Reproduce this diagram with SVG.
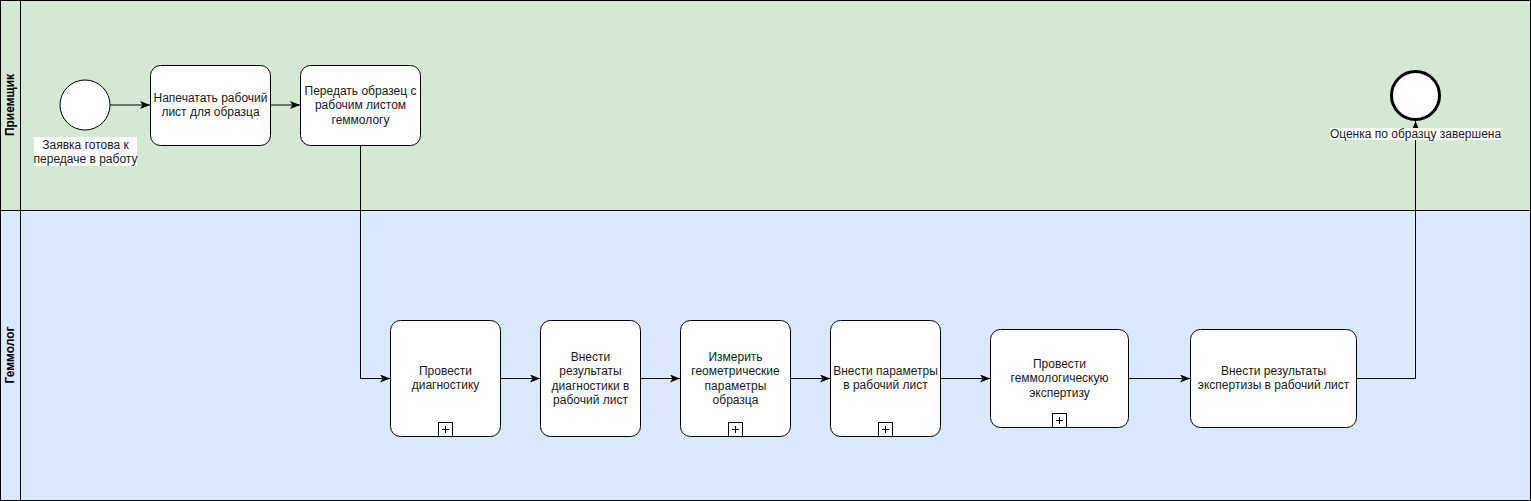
<svg xmlns="http://www.w3.org/2000/svg" width="1531" height="501" viewBox="0 0 1531 501">
<style>
.lane{stroke:#000;stroke-width:1}
.task{fill:#fff;stroke:#000;stroke-width:1}
.t{font-family:"Liberation Sans",Arial,sans-serif;font-size:12px;fill:#1a1a1a;text-anchor:middle}
.lt{font-family:"Liberation Sans",Arial,sans-serif;font-size:12px;font-weight:bold;fill:#000;text-anchor:middle}
.edge{fill:none;stroke:#000;stroke-width:1}
.plus{fill:#fff;stroke:#000;stroke-width:1}
</style>
<defs>
<marker id="arr" viewBox="0 0 10 8" refX="10" refY="4" markerWidth="10" markerHeight="8" markerUnits="userSpaceOnUse" orient="auto">
<path d="M0,0 L10,4 L0,8 L2.5,4 Z" fill="#000"/>
</marker>
</defs>
<g id="pool">
<rect x="0.5" y="0.5" width="1530" height="210" fill="#d5e8d4" class="lane"/>
<rect x="0.5" y="210.5" width="1530" height="290" fill="#dae8fc" class="lane"/>
<line x1="20.5" y1="0.5" x2="20.5" y2="500.5" class="lane"/>
<text class="lt" transform="translate(14,105) rotate(-90)">Приемщик</text>
<text class="lt" transform="translate(14,355) rotate(-90)">Геммолог</text>
</g>
<g id="connectors">
<path class="edge" d="M110,105 L150,105" marker-end="url(#arr)"/>
<path class="edge" d="M270,105 L300,105" marker-end="url(#arr)"/>
<path class="edge" d="M360.5,145 L360.5,378.5 L390,378.5" marker-end="url(#arr)"/>
<path class="edge" d="M500,378.5 L540,378.5" marker-end="url(#arr)"/>
<path class="edge" d="M640,378.5 L680,378.5" marker-end="url(#arr)"/>
<path class="edge" d="M790,378.5 L830,378.5" marker-end="url(#arr)"/>
<path class="edge" d="M940,378.5 L990,378.5" marker-end="url(#arr)"/>
<path class="edge" d="M1128,378.5 L1190,378.5" marker-end="url(#arr)"/>
<path class="edge" d="M1356,378.5 L1415.5,378.5 L1415.5,121" marker-end="url(#arr)"/>
</g>
<g id="start">
<circle cx="85" cy="105" r="25" fill="#fff" stroke="#000" stroke-width="1"/>
<rect x="34" y="137" width="103" height="29" fill="#fff"/>
<text class="t" x="85.5" y="149">Заявка готова к</text>
<text class="t" x="85.5" y="163">передаче в работу</text>
</g>
<g id="task1">
<rect x="150.5" y="65.5" width="120" height="80" rx="10" class="task"/>
<text class="t" x="210.5" y="102">Напечатать рабочий</text>
<text class="t" x="210.5" y="116">лист для образца</text>
</g>
<g id="task2">
<rect x="300.5" y="65.5" width="120" height="80" rx="10" class="task"/>
<text class="t" x="360.5" y="95">Передать образец с</text>
<text class="t" x="360.5" y="109">рабочим листом</text>
<text class="t" x="360.5" y="124">геммологу</text>
</g>
<g id="task3">
<rect x="390.5" y="320.5" width="110" height="116" rx="10" class="task"/>
<text class="t" x="445.5" y="375">Провести</text>
<text class="t" x="445.5" y="389">диагностику</text>
<rect x="438.5" y="422.5" width="14" height="14" class="plus"/>
<path d="M442,429.5 H449 M445.5,426 V433" stroke="#000" stroke-width="1"/>
</g>
<g id="task4">
<rect x="540.5" y="320.5" width="100" height="116" rx="10" class="task"/>
<text class="t" x="590.5" y="361">Внести</text>
<text class="t" x="590.5" y="375">результаты</text>
<text class="t" x="590.5" y="390">диагностики в</text>
<text class="t" x="590.5" y="404">рабочий лист</text>
</g>
<g id="task5">
<rect x="680.5" y="320.5" width="110" height="116" rx="10" class="task"/>
<text class="t" x="735.5" y="361">Измерить</text>
<text class="t" x="735.5" y="375">геометрические</text>
<text class="t" x="735.5" y="390">параметры</text>
<text class="t" x="735.5" y="404">образца</text>
<rect x="728.5" y="422.5" width="14" height="14" class="plus"/>
<path d="M732,429.5 H739 M735.5,426 V433" stroke="#000" stroke-width="1"/>
</g>
<g id="task6">
<rect x="830.5" y="320.5" width="110" height="116" rx="10" class="task"/>
<text class="t" x="885.5" y="375">Внести параметры</text>
<text class="t" x="885.5" y="389">в рабочий лист</text>
<rect x="878.5" y="422.5" width="14" height="14" class="plus"/>
<path d="M882,429.5 H889 M885.5,426 V433" stroke="#000" stroke-width="1"/>
</g>
<g id="task7">
<rect x="990.5" y="329.5" width="138" height="98" rx="10" class="task"/>
<text class="t" x="1059.5" y="368">Провести</text>
<text class="t" x="1059.5" y="382">геммологическую</text>
<text class="t" x="1059.5" y="397">экспертизу</text>
<rect x="1052.5" y="413.5" width="14" height="14" class="plus"/>
<path d="M1056,420.5 H1063 M1059.5,417 V424" stroke="#000" stroke-width="1"/>
</g>
<g id="task8">
<rect x="1190.5" y="329.5" width="166" height="98" rx="10" class="task"/>
<text class="t" x="1273.5" y="375">Внести результаты</text>
<text class="t" x="1273.5" y="389">экспертизы в рабочий лист</text>
</g>
<g id="end">
<circle cx="1415.5" cy="95.5" r="24" fill="#fff" stroke="#000" stroke-width="3"/>
<rect x="1330" y="128" width="171" height="12" fill="#fff"/>
<text class="t" x="1415.5" y="138">Оценка по образцу завершена</text>
</g>
</svg>
